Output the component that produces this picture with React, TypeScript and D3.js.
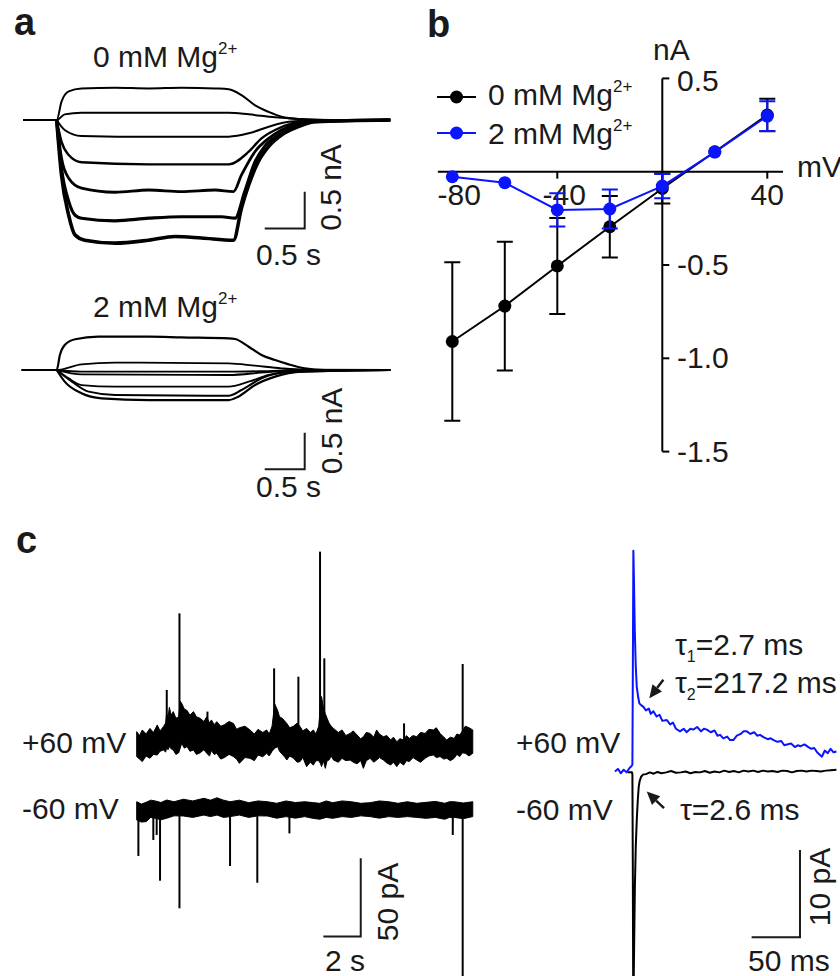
import * as d3 from 'd3';
import React from 'react';

type Pt = [number, number];

// ---------- panel a: step-evoked currents (t in s, I in nA) ----------
const trace0mM: Pt[][] = [
  [[-0.42, 0], [0, 0], [0.06, 0.25], [0.15, 0.39], [0.31, 0.43], [0.73, 0.44], [1.15, 0.43], [1.56, 0.44], [1.98, 0.43], [2.15, 0.42], [2.31, 0.34], [2.48, 0.2], [2.65, 0.11], [2.81, 0.045], [3.02, 0.014], [3.44, 0], [4.17, 0]],
  [[-0.42, 0], [0, 0], [0.1, 0.077], [0.31, 0.1], [1.2, 0.1], [2.15, 0.1], [2.4, 0.077], [2.73, 0.036], [3.02, 0.014], [3.44, 0], [4.17, 0]],
  [[0, 0], [0.1, -0.136], [0.31, -0.218], [1.2, -0.23], [2.15, -0.227], [2.4, -0.182], [2.65, -0.091], [2.9, -0.023], [3.23, -0.005], [4.17, 0]],
  [[0, 0], [0.06, -0.295], [0.15, -0.477], [0.31, -0.577], [1.15, -0.605], [2.15, -0.605], [2.4, -0.432], [2.56, -0.25], [2.73, -0.136], [2.94, -0.045], [3.15, -0.014], [4.17, 0]],
  [[0, 0], [0.06, -0.52], [0.15, -0.795], [0.31, -0.93], [0.73, -0.986], [1.15, -0.955], [1.56, -0.977], [1.98, -0.955], [2.21, -0.977], [2.31, -0.75], [2.48, -0.43], [2.65, -0.25], [2.81, -0.136], [3.02, -0.045], [3.23, -0.014], [4.17, 0]],
  [[0, 0], [0.06, -0.66], [0.15, -1.11], [0.23, -1.3], [0.31, -1.34], [0.73, -1.375], [1.15, -1.34], [1.56, -1.32], [2.06, -1.32], [2.23, -1.34], [2.35, -0.98], [2.48, -0.57], [2.6, -0.36], [2.77, -0.205], [3.02, -0.068], [3.23, -0.023], [4.17, 0]],
  [[0, 0], [0.06, -0.75], [0.15, -1.3], [0.23, -1.57], [0.35, -1.64], [0.73, -1.68], [1.15, -1.64], [1.48, -1.59], [1.81, -1.61], [2.21, -1.64], [2.31, -1.2], [2.4, -0.886], [2.52, -0.568], [2.65, -0.36], [2.81, -0.205], [3.02, -0.09], [3.23, -0.023], [4.17, 0]],
];

const trace2mM: Pt[][] = [
  [[-0.44, 0], [0, 0], [0.04, 0.205], [0.1, 0.34], [0.23, 0.42], [0.52, 0.455], [1.15, 0.455], [1.56, 0.445], [2.15, 0.432], [2.23, 0.423], [2.4, 0.318], [2.56, 0.205], [2.73, 0.136], [2.9, 0.077], [3.1, 0.023], [3.35, 0], [4.17, 0]],
  [[-0.44, 0], [0, 0], [0.31, 0.077], [0.73, 0.1], [2.15, 0.091], [2.48, 0.059], [2.81, 0.023], [3.1, 0.005], [4.17, 0]],
  [[0, 0], [0.31, -0.023], [2.15, -0.023], [2.6, -0.014], [3.02, 0], [4.17, 0]],
  [[0, 0], [0.31, -0.059], [2.15, -0.068], [2.6, -0.032], [3.02, -0.005], [4.17, 0]],
  [[0, 0], [0.15, -0.114], [0.31, -0.205], [0.73, -0.227], [2.15, -0.227], [2.4, -0.159], [2.65, -0.068], [3.02, -0.014], [4.17, 0]],
  [[0, 0], [0.19, -0.159], [0.4, -0.295], [0.73, -0.34], [2.15, -0.35], [2.31, -0.273], [2.56, -0.114], [2.9, -0.032], [4.17, 0]],
  [[0, 0], [0.1, -0.159], [0.31, -0.318], [0.56, -0.386], [1.15, -0.41], [2.15, -0.41], [2.27, -0.364], [2.48, -0.205], [2.73, -0.091], [3.06, -0.023], [4.17, 0]],
];

// ---------- panel b: I-V relation (mV, nA, mean ± SEM) ----------
const voltages = [-80, -60, -40, -20, 0, 20, 40];
const mean0mM = [-0.91, -0.72, -0.505, -0.295, -0.09, 0.107, 0.304];
const sem0mM = [0.425, 0.345, 0.257, 0.165, 0.08, 0, 0.087];
const mean2mM = [-0.027, -0.059, -0.205, -0.2, -0.077, 0.105, 0.298];
const sem2mM = [0, 0, 0.089, 0.105, 0.065, 0, 0.08];
const ivXTicks = [-80, -40, 0, 40];
const ivXLabels = ['-80', '-40', '', '40'];
const ivYTicks = [0.5, -0.5, -1.0, -1.5];
const ivYLabels = ['0.5', '-0.5', '-1.0', '-1.5'];

// ---------- panel c left: single channel recordings (t in s, noise band top / bottom in pA) ----------
const band60: [number, number, number][] = [
  [0, 8.5, -7.4], [0.15, 6, -9], [0.3, 9.6, -10.6], [0.5, 7, -7], [0.71, 10.6, -8.5], [0.9, 8, -6],
  [1.1, 12.8, -6.4], [1.25, 9, -4], [1.43, 11.7, -3.2], [1.55, 14, -4.5], [1.6, 20, -2], [1.68, 18, -3],
  [1.75, 24, -1], [1.85, 19, -2.5], [1.96, 21.3, -3.2], [2.1, 17, -6], [2.25, 18, -5], [2.33, 28, -2],
  [2.41, 26.6, 1.1], [2.55, 23, -2], [2.7, 22, -1], [2.85, 19, -4], [3.04, 21.3, -3.2], [3.2, 18, -6],
  [3.4, 17, -5], [3.6, 15, -3], [3.75, 18, -5.3], [3.9, 14, -7], [4.0, 16, -3.5], [4.15, 13, -6],
  [4.29, 14.9, -5.3], [4.5, 12, -9], [4.7, 13, -8], [4.95, 15, -6], [5.18, 13.8, -7.4], [5.35, 10, -9],
  [5.5, 11, -11.7], [5.8, 12, -8], [6.07, 9.6, -8.5], [6.3, 7, -10], [6.5, 10, -6.4], [6.75, 8, -7.5],
  [6.96, 9.6, -5.3], [7.1, 7, -7], [7.25, 12, -4], [7.33, 20, -3], [7.4, 26, -2], [7.55, 22, -1.1],
  [7.65, 18, -4], [7.8, 17, -6], [7.95, 15, -8], [8.04, 13.8, -9.6], [8.2, 11, -7], [8.4, 12, -8.5],
  [8.6, 14, -11], [8.75, 11.7, -10.6], [8.9, 9, -8], [9.1, 10.6, -13.8], [9.3, 8, -11], [9.46, 9.6, -12.8],
  [9.6, 7, -10], [9.75, 12, -10], [9.85, 26, -12], [9.9, 30.9, -13.8], [10.0, 24, -10], [10.1, 20, -14.9],
  [10.2, 17, -10], [10.3, 14, -9.6], [10.42, 12, -7], [10.54, 10.6, -9.6], [10.8, 8, -11], [11.0, 9.6, -8.5],
  [11.2, 6, -10], [11.43, 7.4, -9.6], [11.6, 9, -11], [11.8, 6.4, -12], [12.0, 4, -10], [12.14, 5.3, -14.9],
  [12.3, 8, -10], [12.5, 7.4, -8.5], [12.7, 5, -11], [12.85, 9.6, -9.6], [13.0, 7, -8], [13.21, 5.3, -9.6],
  [13.4, 6, -11.5], [13.6, 3.2, -12.8], [13.75, 5, -11], [13.93, 2.1, -13.8], [14.1, 4, -11], [14.3, 3.2, -12.8],
  [14.45, 6, -10], [14.6, 4.2, -10.6], [14.8, 6, -8], [15.0, 5.3, -9.6], [15.2, 8, -11], [15.45, 7.4, -8.5],
  [15.65, 10, -7], [15.89, 9.6, -6.4], [16.05, 11, -8], [16.25, 7.4, -7.4], [16.45, 5, -9], [16.61, 3.2, -8.5],
  [16.8, 5, -10], [17.0, 4.2, -8.5], [17.15, 7, -6], [17.3, 6.4, -7.4], [17.45, 9, -5], [17.6, 12, -5.3],
  [17.8, 11, -7], [18.0, 9.6, -5.3],
];
const spikes60: Pt[] = [[1.61, 35.1], [2.29, 84], [3.79, 21.3], [7.36, 48.9], [8.66, 43.6], [9.82, 123.4], [10.05, 55.3], [14.32, 13.8], [17.46, 51.7]];

const bandMinus60: [number, number, number][] = [
  [0, 4.0, -7.7], [0.25, 2.5, -9], [0.5, 3.6, -8.7], [0.75, 5, -6], [1.0, 4.5, -6.6], [1.3, 3.5, -7.5],
  [1.6, 5.1, -6.6], [2.0, 4, -5], [2.5, 5.6, -5.1], [3.0, 4.5, -6], [3.6, 6.2, -4.5], [3.95, 5, -5.5],
  [4.3, 6.5, -4.5], [4.65, 5, -6], [5.0, 4.0, -5.5], [5.5, 5, -4.5], [6.0, 3.4, -6.0], [6.5, 4.5, -5],
  [7.0, 4.0, -5.1], [7.5, 3, -6.5], [8.0, 4.5, -5.5], [8.5, 3.5, -6.5], [9.0, 4.0, -5.5], [9.4, 3.5, -6.5],
  [9.8, 3.0, -7.2], [10.15, 4.5, -6], [10.5, 3.4, -6.6], [11.0, 4.5, -5.5], [11.5, 4.0, -6.0], [12.0, 3, -5],
  [12.5, 3.4, -5.5], [13.0, 4.5, -6.5], [13.5, 4.0, -5.5], [14.0, 3, -6], [14.5, 4.0, -5.5], [15.0, 3, -6],
  [15.5, 3.6, -6.6], [16.0, 4.2, -6], [16.5, 3.0, -7.2], [16.75, 4, -6], [17.0, 4.0, -6.0], [17.5, 3.2, -6.8],
  [18.0, 4.0, -5.5],
];
const spikesMinus60: Pt[] = [[0.09, -30.6], [0.89, -20.4], [1.07, -17.2], [1.25, -46.4], [2.29, -64], [5.0, -37], [6.46, -47.7], [8.18, -16.2], [16.93, -17.2], [17.46, -112]];

// ---------- panel c right: averaged events (t in ms, I in pA) ----------
const eventPlus60: Pt[] = [
  [-18, 0], [-15, 0.3], [-12, -0.2], [-9, 0.2], [-6, -0.1], [-3, 0.4], [-1, 0.6], [0, 0.8], [0.6, 15], [1.0, 25.3],
  [1.6, 22], [2.5, 16], [3.5, 12], [4.5, 9.7], [6, 8.5], [7.2, 7.8], [9, 7.6], [11.4, 7.4], [14, 7.0], [17, 7.2],
  [19, 6.6], [21.7, 6.9], [25, 6.3], [28, 6.5], [31, 5.8], [35.6, 5.9], [39, 5.4], [42, 5.6], [45, 4.9], [49.3, 4.6],
  [53, 4.9], [56, 4.5], [60, 4.9], [63, 4.8], [67, 5.1], [71, 4.6], [74, 4.9], [77, 4.8], [81, 4.5], [85, 4.7],
  [88, 4.1], [90.7, 4.2], [94, 3.8], [98, 4.0], [101, 3.6], [104.4, 3.6], [108, 4.1], [112, 4.3], [115, 4.6], [118.3, 4.6],
  [122, 4.3], [126, 4.5], [129, 4.1], [132, 4.2], [136, 3.9], [140, 3.7], [143, 3.8], [146, 3.6], [150, 3.4], [154, 3.5],
  [157, 3.0], [160, 3.1], [164, 3.2], [168, 2.8], [171, 3.0], [174, 2.9], [178, 3.1], [182, 2.8], [185, 2.6], [188, 2.7],
  [191, 2.2], [194, 1.9], [196, 1.7], [199, 2.4], [202, 2.1], [205, 2.6], [208, 2.2], [211, 2.3],
];
const eventMinus60: Pt[] = [
  [-5, -0.1], [-0.5, -0.1], [0, -0.3], [0.4, -10], [0.8, -24], [1.2, -25], [1.8, -20], [2.6, -13], [3.5, -8.5],
  [4.5, -5.6], [5.5, -3.4], [6.5, -1.8], [7.5, -1.1], [9, -0.6], [11, -0.35], [14, -0.3], [18, -0.1], [22, -0.25],
  [26, -0.05], [30, -0.2], [35, -0.1], [40, 0.05], [45, -0.15], [50, -0.1], [55, 0], [60, -0.2], [65, -0.05],
  [70, -0.1], [75, 0.05], [80, -0.15], [85, 0], [90, -0.1], [95, 0.1], [100, -0.05], [105, 0.05], [110, -0.1],
  [115, 0.1], [120, 0], [125, 0.1], [130, -0.05], [135, 0.1], [140, 0], [145, 0.05], [150, -0.05], [155, 0.1],
  [160, 0.05], [165, -0.1], [170, 0.05], [175, 0.1], [180, 0], [185, 0.1], [190, 0.05], [195, 0], [200, 0.1],
  [205, 0.15], [211, 0.2],
];

const FONT = '"Liberation Sans", Arial, Helvetica, sans-serif';
const INK = '#1a1a1a';
const BLUE = '#0a14ff';

const W = 840;
const H = 976;

// scales
const xA = d3.scaleLinear().domain([0, 1]).range([56.7, 136.7]);
const yA0 = d3.scaleLinear().domain([0, 1]).range([120, 46.7]);
const yA2 = d3.scaleLinear().domain([0, 1]).range([370, 296.7]);

const xB = d3.scaleLinear().domain([-80, 0]).range([452.3, 662.3]);
const yB = d3.scaleLinear().domain([0, -0.5]).range([171.7, 265]);

const xC = d3.scaleLinear().domain([0, 1]).range([136.7, 155.37]);
const yC60 = d3.scaleLinear().domain([0, 1]).range([745, 743.433]);
const yCm60 = d3.scaleLinear().domain([0, 1]).range([808, 806.433]);

const xR = d3.scaleLinear().domain([0, 1]).range([632.4, 633.367]);
const yR = d3.scaleLinear().domain([0, 1]).range([771.5, 762.77]);

const widths0 = [2, 2, 2, 2.4, 2.8, 3.2, 3.6];
const widths2 = [2.2, 1.8, 1.8, 1.8, 1.8, 2, 2.2];

const Sup = ({ t }: { t: string }) => (
  <tspan fontSize={17} dy={-13}>{t}</tspan>
);

function ScaleBar({ x, y, dx, dy }: { x: number; y: number; dx: number; dy: number }) {
  return (
    <path
      d={`M${x - dx},${y}H${x}V${y - dy}`}
      fill="none"
      stroke={INK}
      strokeWidth={2}
    />
  );
}

function Arrow({ x1, y1, x2, y2 }: { x1: number; y1: number; x2: number; y2: number }) {
  const ang = Math.atan2(y2 - y1, x2 - x1);
  const len = 13;
  const hw = 6;
  const bx = x2 - len * Math.cos(ang);
  const by = y2 - len * Math.sin(ang);
  const px = -Math.sin(ang) * hw;
  const py = Math.cos(ang) * hw;
  return (
    <g>
      <line x1={x1} y1={y1} x2={bx} y2={by} stroke={INK} strokeWidth={2.5} />
      <polygon points={`${x2},${y2} ${bx + px},${by + py} ${bx - px},${by - py}`} fill={INK} />
    </g>
  );
}

export default function App() {
  const lineA0 = d3.line<Pt>().x((d) => xA(d[0])).y((d) => yA0(d[1])).curve(d3.curveMonotoneX);
  const lineA2 = d3.line<Pt>().x((d) => xA(d[0])).y((d) => yA2(d[1])).curve(d3.curveMonotoneX);

  const ivLine = (means: number[]) =>
    d3.line<number>().x((_, i) => xB(voltages[i])).y((d) => yB(d))(means) || '';

  const area60 = d3.area<[number, number, number]>().x((d) => xC(d[0])).y0((d) => yC60(d[2])).y1((d) => yC60(d[1]));
  const areaM60 = d3.area<[number, number, number]>().x((d) => xC(d[0])).y0((d) => yCm60(d[2])).y1((d) => yCm60(d[1]));

  const lineR = d3.line<Pt>().x((d) => xR(d[0])).y((d) => yR(d[1]));

  const ivSeries = [
    { means: mean0mM, sems: sem0mM, color: '#000' },
    { means: mean2mM, sems: sem2mM, color: BLUE },
  ];

  // scale bar corners in data units
  const sbA0 = { x: xA(3.1), y: yA0(-1.48) };
  const sbA2 = { x: xA(3.1), y: yA2(-1.355) };
  const sbC = { x: xC(12.0), y: yCm60(-82) };
  const sbR = { x: xR(173.3), y: yR(-19) };

  return (
    <svg
      width={W}
      height={H}
      style={{ position: 'absolute', left: 0, top: 0, display: 'block', background: '#fff' }}
      fontFamily={FONT}
      fill={INK}
    >
      {/* ---------- panel a ---------- */}
      <text x={14} y={35} fontSize={38} fontWeight="bold">a</text>
      <text x={93} y={67} fontSize={30}>0 mM Mg<Sup t="2+" /></text>
      <text x={93} y={317} fontSize={30}>2 mM Mg<Sup t="2+" /></text>

      {trace0mM.map((tr, i) => (
        <path key={`a0-${i}`} d={lineA0(tr) || ''} fill="none" stroke="#000" strokeWidth={widths0[i]} strokeLinejoin="round" />
      ))}
      {trace2mM.map((tr, i) => (
        <path key={`a2-${i}`} d={lineA2(tr) || ''} fill="none" stroke="#000" strokeWidth={widths2[i]} strokeLinejoin="round" />
      ))}

      <ScaleBar x={sbA0.x} y={sbA0.y} dx={xA(0.5) - xA(0)} dy={yA0(0) - yA0(0.5)} />
      <text fontSize={30} textAnchor="middle" transform={`translate(341,187.5) rotate(-90)`}>0.5 nA</text>
      <text x={256} y={265} fontSize={30}>0.5 s</text>

      <ScaleBar x={sbA2.x} y={sbA2.y} dx={xA(0.5) - xA(0)} dy={yA2(0) - yA2(0.5)} />
      <text fontSize={30} textAnchor="middle" transform={`translate(341.5,431) rotate(-90)`}>0.5 nA</text>
      <text x={256} y={497} fontSize={30}>0.5 s</text>

      {/* ---------- panel b ---------- */}
      <text x={427} y={37} fontSize={38} fontWeight="bold">b</text>
      <text x={653} y={60} fontSize={30}>nA</text>
      <text x={797} y={177} fontSize={30}>mV</text>

      {/* axes */}
      <line x1={xB(-85.5)} x2={xB(46)} y1={yB(0)} y2={yB(0)} stroke="#000" strokeWidth={2} />
      <line x1={xB(0)} x2={xB(0)} y1={yB(0.5)} y2={yB(-1.5)} stroke="#000" strokeWidth={2} />
      {ivXTicks.map((v, i) => (
        <g key={`xt-${v}`}>
          <line x1={xB(v)} x2={xB(v)} y1={yB(0)} y2={yB(0) + 7} stroke="#000" strokeWidth={2} />
          {ivXLabels[i] && (
            <text x={xB(v) + (v < 0 ? 7 : 0)} y={205} fontSize={30} textAnchor="middle">{ivXLabels[i]}</text>
          )}
        </g>
      ))}
      {ivYTicks.map((v, i) => (
        <g key={`yt-${v}`}>
          <line x1={xB(0)} x2={xB(0) + 7} y1={yB(v)} y2={yB(v)} stroke="#000" strokeWidth={2} />
          <text x={677} y={yB(v) + (v > 0 ? 13 : 10)} fontSize={30}>{ivYLabels[i]}</text>
        </g>
      ))}

      {ivSeries.map((s, si) => (
        <g key={`ser-${si}`}>
          <path d={ivLine(s.means)} fill="none" stroke={s.color} strokeWidth={2} />
          {s.means.map((m, i) =>
            s.sems[i] > 0.03 ? (
              <path
                key={`eb-${si}-${i}`}
                d={`M${xB(voltages[i]) - 8},${yB(m + s.sems[i])}H${xB(voltages[i]) + 8}M${xB(voltages[i])},${yB(m + s.sems[i])}V${yB(m - s.sems[i])}M${xB(voltages[i]) - 8},${yB(m - s.sems[i])}H${xB(voltages[i]) + 8}`}
                stroke={s.color}
                strokeWidth={2}
                fill="none"
              />
            ) : null
          )}
          {s.means.map((m, i) => (
            <circle key={`pt-${si}-${i}`} cx={xB(voltages[i])} cy={yB(m)} r={6.5} fill={s.color} />
          ))}
        </g>
      ))}

      {/* legend */}
      <line x1={437} x2={476} y1={97} y2={97} stroke="#000" strokeWidth={2} />
      <circle cx={456.5} cy={97} r={6.5} fill="#000" />
      <text x={488} y={105} fontSize={30}>0 mM Mg<Sup t="2+" /></text>
      <line x1={437} x2={476} y1={133} y2={133} stroke={BLUE} strokeWidth={2} />
      <circle cx={456.5} cy={133} r={6.5} fill={BLUE} />
      <text x={488} y={144} fontSize={30}>2 mM Mg<Sup t="2+" /></text>

      {/* ---------- panel c ---------- */}
      <text x={16} y={553} fontSize={38} fontWeight="bold">c</text>
      <text x={22} y={753} fontSize={30}>+60 mV</text>
      <text x={22} y={819} fontSize={30}>-60 mV</text>

      <path d={area60(band60) || ''} fill="#000" stroke="#000" strokeWidth={1} />
      {spikes60.map(([t, p], i) => (
        <line key={`sp-${i}`} x1={xC(t)} x2={xC(t)} y1={yC60(0)} y2={yC60(p)} stroke="#000" strokeWidth={2} />
      ))}
      <path d={areaM60(bandMinus60) || ''} fill="#000" stroke="#000" strokeWidth={1} />
      {spikesMinus60.map(([t, p], i) => (
        <line key={`sn-${i}`} x1={xC(t)} x2={xC(t)} y1={yCm60(0)} y2={yCm60(p)} stroke="#000" strokeWidth={2} />
      ))}

      <ScaleBar x={sbC.x} y={sbC.y} dx={xC(2) - xC(0)} dy={yCm60(0) - yCm60(50)} />
      <text fontSize={30} textAnchor="middle" transform={`translate(398,902) rotate(-90)`}>50 pA</text>
      <text x={325} y={971} fontSize={30}>2 s</text>

      <text x={516} y={753} fontSize={30}>+60 mV</text>
      <text x={516} y={820} fontSize={30}>-60 mV</text>

      <path d={lineR(eventMinus60) || ''} fill="none" stroke="#000" strokeWidth={2} strokeLinejoin="round" />
      <path d={lineR(eventPlus60) || ''} fill="none" stroke={BLUE} strokeWidth={2} strokeLinejoin="round" />

      <text x={675} y={655} fontSize={30}>
        τ<tspan fontSize={16} dy={7}>1</tspan><tspan dy={-7}>=2.7 ms</tspan>
      </text>
      <text x={675} y={693} fontSize={30}>
        τ<tspan fontSize={16} dy={7}>2</tspan><tspan dy={-7}>=217.2 ms</tspan>
      </text>
      <text x={680} y={820} fontSize={30}>τ=2.6 ms</text>

      <Arrow x1={xR(32)} y1={yR(10.5)} x2={xR(17.5)} y2={yR(8.4)} />
      <Arrow x1={xR(32.7)} y1={yR(-4.2)} x2={xR(14.8)} y2={yR(-2.3)} />

      <ScaleBar x={sbR.x} y={sbR.y} dx={xR(50) - xR(0)} dy={yR(0) - yR(10)} />
      <text fontSize={30} textAnchor="middle" transform={`translate(830,887) rotate(-90)`}>10 pA</text>
      <text x={748} y={971} fontSize={30}>50 ms</text>
    </svg>
  );
}
